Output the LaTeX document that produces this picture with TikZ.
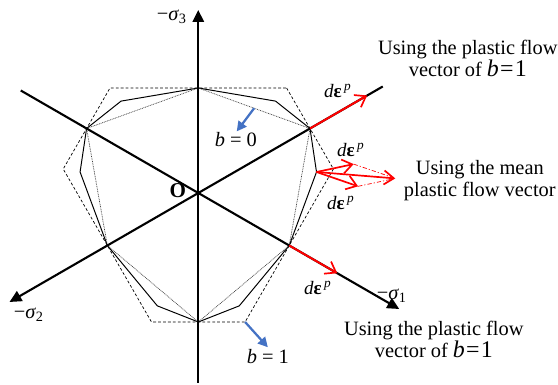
\documentclass[tikz,border=0pt]{standalone}
\usepackage{fontspec}
\setmainfont{Liberation Serif}
\usepackage{tikz}
\usetikzlibrary{arrows.meta, calc, positioning}
\definecolor{flowred}{RGB}{255,0,0}
\definecolor{bblue}{RGB}{68,114,196}
\tikzset{
  >=latex,
  % assi principali
  axis/.style={line width=1.5pt,-{Triangle[length=8.5pt,width=8pt]}},
  % superfici di snervamento
  face ts/.style={line width=0.5pt,dash pattern=on 2pt off 1.5pt},
  face ust/.style={line width=0.7pt},
  face mc/.style={line width=0.5pt,black!75,dash pattern=on 0.6pt off 0.6pt},
  % vettori di flusso plastico
  flow/.style={flowred,line width=1.4pt,-{Straight Barb[length=7pt,width=10pt,line width=1.2pt]}},
  flow mean/.style={flow,line width=1.2pt},
  flow sum/.style={flowred,line width=0.5pt,dash pattern=on 3pt off 1.5pt on 0.8pt off 1.5pt},
  b arrow/.style={bblue,line width=1.6pt,-{Triangle[length=7pt,width=7pt]}},
  % testi
  lbl/.style={font=\fontsize{14.5}{15.6}\selectfont,inner sep=0pt,align=center},
  lbl eps/.style={font=\fontsize{13.5}{14}\selectfont,inner sep=0pt}
}
\newcommand{\depsp}{\textit{d}\textbf{ε}\textsuperscript{\,\textit{p}}}
\newcommand{\bone}{{\fontsize{17}{15.6}\selectfont\textit{b}\kern0.05em=\kern0.05em1}}

\begin{document}
\begin{tikzpicture}[x=0.025cm,y=0.025cm]
  \useasboundingbox (-198.3,-192) rectangle (359.7,193);
  \coordinate (O) at (0,0);
  % vertici Mohr-Coulomb
  \coordinate (m1) at (90:105);
  \coordinate (m2) at (30:129);
  \coordinate (m3) at (-30:105);
  \coordinate (m4) at (-90:129);
  \coordinate (m5) at (210:105);
  \coordinate (m6) at (150:129);
  % vertici twin-shear
  \coordinate (t1) at (88.3,105);
  \coordinate (t2) at (135.1,24);
  \coordinate (t3) at (46.8,-129);
  \coordinate (t4) at (-46.8,-129);
  \coordinate (t5) at (-135.1,24);
  \coordinate (t6) at (-88.3,105);
  \foreach \i in {1,...,6}
    \coordinate (s\i) at ($(O)!0.875!(t\i)$);

  \draw[face ts] (t1) -- (t2) -- (t3) -- (t4) -- (t5) -- (t6) -- cycle;
  \draw[face ust] (m1) -- (s1) -- (m2) -- (s2) -- (m3) -- (s3) -- (m4)
    -- (s4) -- (m5) -- (s5) -- (m6) -- (s6) -- cycle;
  \draw[face mc] (m1) -- (m2) -- (m3) -- (m4) -- (m5) -- (m6) -- cycle;

  % assi
  \coordinate (a3end) at (0,-190);
  \coordinate (a3tip) at (90:183);
  \coordinate (a1end) at (150:205);
  \coordinate (a1tip) at (-30:232);
  \coordinate (a2end) at (30:213);
  \coordinate (a2tip) at (210:218);
  \draw[axis] (a3end) -- (a3tip);
  \draw[axis] (a1end) -- (a1tip);
  \draw[axis] (a2end) -- (a2tip);
  \node[lbl] (lsig3) at (-26.5,176) {−\textit{σ}\textsubscript{3}};
  \node[lbl] (lsig2) at (-169.5,-122) {−\textit{σ}\textsubscript{2}};
  \node[lbl] (lsig1) at (193.5,-103) {−\textit{σ}\textsubscript{1}};
  \node[lbl,font=\fontsize{15}{16}\selectfont\bfseries] (lO) at (-20.5,2) {O};

  % flusso plastico ai vertici
  \coordinate (f1) at (30:195);
  \coordinate (f3) at (-30:160.5);
  \draw[flow] (m2) -- (f1);
  \draw[flow] (m3) -- (f3);
  \coordinate (fa) at ($(s2)+(12:38)$);
  \coordinate (fb) at ($(s2)+(-19:44)$);
  \coordinate (fm) at ($(fa)+(fb)-(s2)$);
  \draw[flow sum] (fa) -- (fm);
  \draw[flow sum] (fb) -- (fm);
  \draw[flow mean] (s2) -- (fa);
  \draw[flow mean] (s2) -- (fb);
  \draw[flow mean] (s2) -- (fm);

  \node[lbl eps] (e1) at (139.5,102) {\depsp};
  \node[lbl eps] (e2) at (152.5,43) {\depsp};
  \node[lbl eps] (e3) at (142.5,-10) {\depsp};
  \node[lbl eps] (e4) at (119.5,-95) {\depsp};

  % parametro b
  \coordinate (b0s) at ($(m1)!0.5!(m2)$);
  \coordinate (b0t) at ($(b0s)+(233:29)$);
  \coordinate (b1t) at ($(t3)+(-48:34)$);
  \draw[b arrow] (b0s) -- (b0t);
  \draw[b arrow] (t3) -- (b1t);
  \node[lbl] (lb0) at (37.5,53) {\textit{b} = 0};
  \node[lbl] (lb1) at (69.5,-164) {\textit{b} = 1};

  \node[lbl] (ttop) at (269.5,135) {Using the plastic flow\\vector of \bone};
  \node[lbl] (tmid) at (281.5,12) {Using the mean\\plastic flow vector};
  \node[lbl] (tbot) at (235.5,-146) {Using the plastic flow\\vector of \bone};
\end{tikzpicture}
\end{document}
